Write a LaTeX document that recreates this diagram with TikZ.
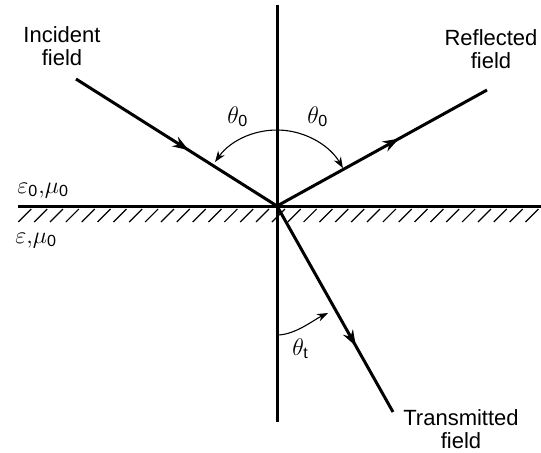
\documentclass[tikz,border=0pt]{standalone}
\usepackage{amsmath}
\usepackage{fontspec}
\setmainfont{Liberation Sans}
\usetikzlibrary{arrows.meta,decorations.markings}
\tikzset{
  mainline/.style={line width=1.5pt},
  arcline/.style={line width=0.55pt},
  hatchline/.style={line width=0.6pt},
  lbl/.style={inner sep=0pt, align=center, font=\fontsize{11}{11.8}\selectfont},
  mlbl/.style={inner sep=0pt, anchor=base west, font=\fontsize{11.5}{12}\selectfont},
  midarrow/.style={postaction={decorate},
    decoration={markings, mark=at position #1 with {\arrow{Stealth[length=8pt,width=5.6pt]}}}},
  smalltip/.tip={Stealth[length=5.5pt,width=4pt]}
}
\begin{document}
\begin{tikzpicture}[x=0.5pt,y=-0.5pt]
\useasboundingbox (0,0) rectangle (541,452);
\coordinate (O) at (277,206);
\coordinate (Itop) at (76,79);
\coordinate (Rend) at (487,90);
\coordinate (Tend) at (393,412);
\coordinate (Vtop) at (277,5);
\coordinate (Vbot) at (277,422);
\coordinate (Hl) at (18,206);
\coordinate (Hr) at (541,206);
\coordinate (Ta) at (277,335);
\coordinate (Tb) at (328,313);
% hatching
\begin{scope}
\clip (0,0) rectangle (541,452);
\foreach \i in {0,...,33}{
  \draw[hatchline] (18.3+15.85*\i,222) -- ++(13,-13);
}
\end{scope}
% axes
\draw[mainline] (Hl) -- (Hr);
\draw[mainline] (Vtop) -- (Vbot);
% rays
\draw[mainline, midarrow=0.56] (Itop) -- (O);
\draw[mainline, midarrow=0.58] (O) -- (Rend);
\draw[mainline, midarrow=0.68] (O) -- (Tend);
% angle arcs
\draw[arcline, smalltip-smalltip] (O) ++(-144.6:76) arc[start angle=-144.6, end angle=-29.9, radius=76];
\draw[arcline, -smalltip] (Ta) .. controls (295,335) and (313.6,319.9) .. (Tb);
% labels
\node[lbl, anchor=north] (inc) at (62,26) {Incident\\field};
\node[lbl, anchor=north] (ref) at (491,29) {Reflected\\field};
\node[lbl, anchor=north] (tra) at (461,409) {Transmitted\\field};
\node[mlbl] (th1) at (227,123) {$\theta_{\text{0}}$};
\node[mlbl] (th2) at (307,123) {$\theta_{\text{0}}$};
\node[mlbl] (tht) at (292,355) {$\theta_{\text{t}}$};
\node[mlbl] (med1) at (17,193) {$\varepsilon_{\text{0}}{,}\mu_{\text{0}}$};
\node[mlbl] (med2) at (15,243) {$\varepsilon{,}\mu_{\text{0}}$};
\end{tikzpicture}
\end{document}
